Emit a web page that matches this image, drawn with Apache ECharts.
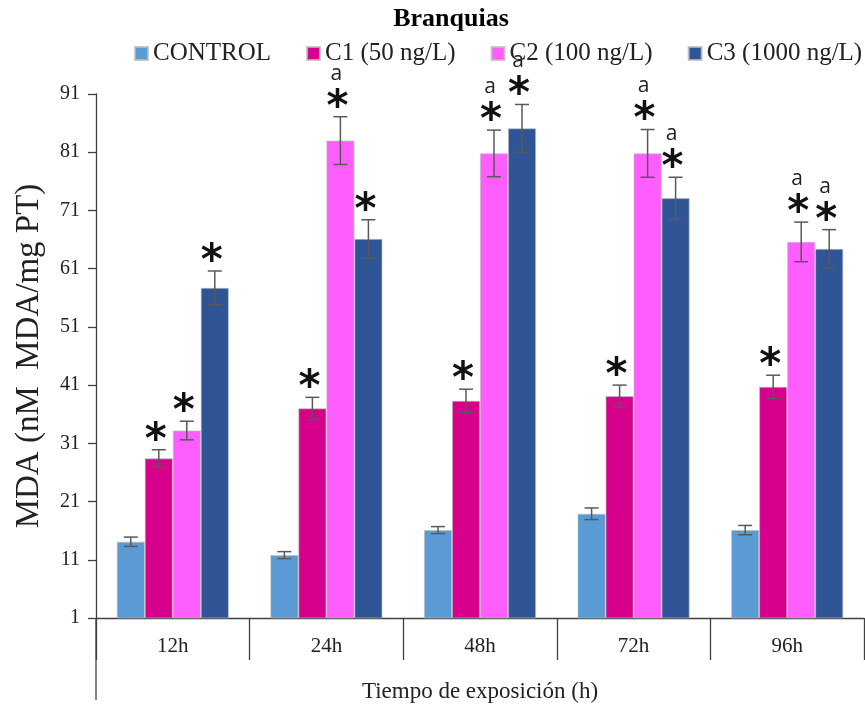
<!DOCTYPE html>
<html>
<head>
<meta charset="utf-8">
<title>Branquias</title>
<script src="https://cdn.jsdelivr.net/npm/echarts@6/dist/echarts.min.js"></script>
<style>
  html, body { margin: 0; padding: 0; background: #fff; }
  #chart { width: 865px; height: 704px; }
</style>
</head>
<body>
<div id="chart"></div>
<script>
// datos
let categorias = ['12h', '24h', '48h', '72h', '96h'];
let nombres = ['CONTROL', 'C1 (50 ng/L)', 'C2 (100 ng/L)', 'C3 (1000 ng/L)'];
let colores = ['#5B9BD5', '#D6008C', '#FF5EFF', '#2F5597'];

let control = [14.1, 11.8, 16.1, 18.9, 16.1];
let c1 = [28.4, 37.0, 38.3, 39.1, 40.7];
let c2 = [33.2, 83.0, 80.8, 80.8, 65.6];
let c3 = [57.7, 66.1, 85.1, 73.1, 64.4];

let errControl = [0.8, 0.6, 0.6, 1.0, 0.8];
let errC1 = [1.5, 1.9, 2.0, 1.9, 2.0];
let errC2 = [1.6, 4.1, 4.0, 4.1, 3.4];
let errC3 = [2.9, 3.3, 4.1, 3.6, 3.3];

// marcas de significancia
let marcasControl = ['', '', '', '', ''];
let marcasC1 = ['*', '*', '*', '*', '*'];
let marcasC2 = ['*', 'a*', 'a*', 'a*', 'a*'];
let marcasC3 = ['*', '*', 'a*', 'a*', 'a*'];

let ticksY = [1, 11, 21, 31, 41, 51, 61, 71, 81, 91];

const BAR_W = 28;

let valores = [control, c1, c2, c3];
let errores = [errControl, errC1, errC2, errC3];
let marcas = [marcasControl, marcasC1, marcasC2, marcasC3];

function barSeries(i) {
    return {
        name: nombres[i],
        type: 'bar',
        barWidth: BAR_W,
        barGap: '0%',
        itemStyle: {
            color: colores[i],
            borderColor: 'rgba(190,190,190,0.8)',
            borderWidth: 0.8
        },
        data: valores[i]
    };
}

function errorSeries(i) {
    let data = valores[i].map(function (v, k) {
        return [k, v, errores[i][k]];
    });
    return {
        type: 'custom',
        z: 5,
        silent: true,
        encode: { x: 0, y: [1] },
        renderItem: function (params, api) {
            let k = api.value(0);
            let v = api.value(1);
            let e = api.value(2);
            let hi = api.coord([k, v + e]);
            let lo = api.coord([k, v - e]);
            let cx = hi[0] + (i - 1.5) * BAR_W;
            let cap = 7;
            let st = { stroke: '#595959', lineWidth: 1.5 };
            let hijos = [
                { type: 'line', shape: { x1: cx, y1: hi[1], x2: cx, y2: lo[1] }, style: st },
                { type: 'line', shape: { x1: cx - cap, y1: hi[1], x2: cx + cap, y2: hi[1] }, style: st },
                { type: 'line', shape: { x1: cx - cap, y1: lo[1], x2: cx + cap, y2: lo[1] }, style: st }
            ];
            let m = marcas[i][params.dataIndex];
            if (m.indexOf('*') >= 0) {
                hijos.push({
                    type: 'text',
                    style: {
                        x: cx - 3, y: hi[1] + 13,
                        text: '*',
                        fontFamily: 'DejaVu Sans',
                        fontWeight: 'bold',
                        fontSize: 42,
                        fill: '#111',
                        align: 'center',
                        verticalAlign: 'bottom'
                    }
                });
            }
            if (m.indexOf('a') >= 0) {
                hijos.push({
                    type: 'text',
                    style: {
                        x: cx - 4, y: hi[1] - 43,
                        text: 'a',
                        fontFamily: 'Open Sans',
                        fontSize: 21,
                        fill: '#222',
                        align: 'center',
                        verticalAlign: 'middle'
                    }
                });
            }
            return { type: 'group', children: hijos };
        },
        data: data
    };
}

let chart = echarts.init(document.getElementById('chart'));

let option = {
    animation: false,
    title: {
        text: 'Branquias',
        left: 446,
        textAlign: 'center',
        top: 1,
        textStyle: {
            fontFamily: 'Liberation Serif',
            fontWeight: 'bold',
            fontSize: 26,
            color: '#000'
        }
    },
    legend: {
        data: nombres,
        left: 134,
        top: 41,
        width: 740,
        padding: 0,
        itemWidth: 13,
        itemHeight: 13,
        itemGap: 35,
        icon: 'rect',
        textStyle: {
            fontFamily: 'Liberation Serif',
            fontSize: 25,
            color: '#222'
        }
    },
    grid: {
        left: 96,
        right: 1,
        top: 94,
        bottom: 86,
        containLabel: false,
        outerBoundsMode: 'none'
    },
    xAxis: {
        type: 'category',
        data: categorias,
        name: 'Tiempo de exposición (h)',
        nameLocation: 'middle',
        nameGap: 62,
        nameTextStyle: {
            fontFamily: 'Liberation Serif',
            fontSize: 23,
            color: '#222'
        },
        axisLine: { lineStyle: { color: '#404040', width: 1.3 } },
        axisTick: {
            show: true,
            length: 42,
            lineStyle: { color: '#404040', width: 1.3 }
        },
        axisLabel: {
            margin: 18,
            fontFamily: 'Liberation Serif',
            fontSize: 21,
            color: '#222'
        }
    },
    yAxis: {
        type: 'value',
        min: 1,
        max: 91,
        name: 'MDA (nM  MDA/mg PT)',
        nameLocation: 'middle',
        nameGap: 50,
        nameTextStyle: {
            fontFamily: 'Liberation Serif',
            fontSize: 33,
            color: '#222'
        },
        splitLine: { show: false },
        axisLine: { show: true, lineStyle: { color: '#404040', width: 1.3 } },
        axisTick: {
            show: true,
            length: 8,
            customValues: ticksY,
            lineStyle: { color: '#404040', width: 1.3 }
        },
        axisLabel: {
            margin: 16,
            customValues: ticksY,
            fontFamily: 'Liberation Serif',
            fontSize: 20,
            color: '#222'
        }
    },
    graphic: [
        {
            type: 'line',
            shape: { x1: 96, y1: 618, x2: 96, y2: 700 },
            style: { stroke: '#404040', lineWidth: 1.3 }
        }
    ],
    series: [
        barSeries(0), barSeries(1), barSeries(2), barSeries(3),
        errorSeries(0), errorSeries(1), errorSeries(2), errorSeries(3)
    ]
};

chart.setOption(option);
</script>
</body>
</html>
